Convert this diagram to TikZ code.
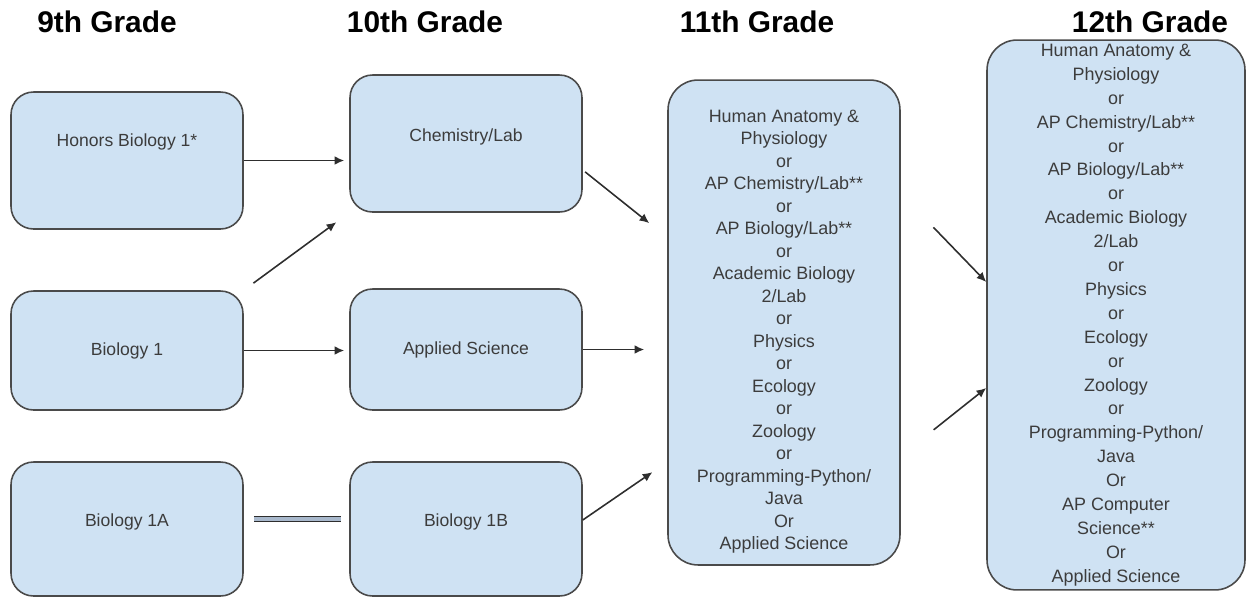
\documentclass[tikz,border=0pt]{standalone}
\usepackage{fontspec}
\setmainfont{Liberation Sans}
\usetikzlibrary{arrows.meta,positioning}
\definecolor{boxblue}{HTML}{CFE2F3}
\definecolor{edgegray}{HTML}{4A4A4A}
\definecolor{arrgray}{HTML}{2E2E2E}
\definecolor{txtgray}{HTML}{3C3C3C}
\definecolor{barfill}{HTML}{A8B8CC}

\begin{document}
\begin{tikzpicture}[
  x=0.02cm, y=-0.02cm,
  box/.style={draw=edgegray, fill=boxblue, line width=0.9pt, rounded corners=0.45cm, minimum width=4.64cm, minimum height=2.74cm, text height=7.5pt, text depth=2.1pt, inner sep=0pt, text=txtgray, font=\fontsize{10}{12}\selectfont},
  lift/.style={text depth=#1},
  tall/.style={draw=edgegray, fill=boxblue, line width=0.9pt, rounded corners=0.6cm, align=center, inner sep=0pt, text=txtgray},
  grade/.style={font=\fontsize{17}{20}\selectfont\bfseries},
  arr/.style={-{Latex[length=5.5pt,width=5pt]}, draw=arrgray, line width=0.9pt},
  dbl/.style={draw=arrgray, double=barfill, double distance=2.4pt, line width=0.7pt}
]
  \useasboundingbox (0,0) rectangle (1255,596);

  \node[grade] (g9) at (107,22) {9th Grade};
  \node[grade] (g10) at (425,22) {10th Grade};
  \node[grade] (g11) at (757,22) {11th Grade};
  \node[grade] (g12) at (1150,22) {12th Grade};

  \node[box, lift=24pt] (honors) at (127,160.5) {Honors Biology 1*};
  \node[box, lift=9.5pt] (chem) at (466,143.5) {Chemistry/Lab};
  \node[box, minimum height=2.38cm] (bio1) at (127,350.5) {Biology 1};
  \node[box, minimum height=2.42cm] (applied) at (466,349.5) {Applied Science};
  \node[box, minimum height=2.68cm, lift=10pt] (bio1a) at (127,529) {Biology 1A};
  \node[box, minimum height=2.68cm, lift=10pt] (bio1b) at (466,529) {Biology 1B};

  \node[tall, minimum width=4.64cm, minimum height=9.7cm, font=\fontsize{10.2}{12.8}\selectfont] (grade11) at (784,322.5) {\rule{0pt}{17.5pt}Human Anatomy \&\\Physiology\\or\\AP Chemistry/Lab**\\or\\AP Biology/Lab**\\or\\Academic Biology\\2/Lab\\or\\Physics\\or\\Ecology\\or\\Zoology\\or\\Programming-Python/\\Java\\Or\\Applied Science};
  \node[tall, minimum width=5.16cm, minimum height=11cm, font=\fontsize{10.2}{13.6}\selectfont] (grade12) at (1116,315) {Human Anatomy \&\\Physiology\\or\\AP Chemistry/Lab**\\or\\AP Biology/Lab**\\or\\Academic Biology\\2/Lab\\or\\Physics\\or\\Ecology\\or\\Zoology\\or\\Programming-Python/\\Java\\Or\\AP Computer\\Science**\\Or\\Applied Science};

  \draw[arr, shorten >=0.1cm] (honors.east) -- (honors.east -| chem.west);
  \draw[arr, shorten <=0.24cm, shorten >=0.32cm] (bio1.north east) -- (chem.south west);
  \draw[arr, shorten >=0.1cm] (bio1.east) -- (bio1.east -| applied.west);
  \draw[dbl, shorten <=0.2cm, shorten >=0.16cm] ([yshift=0.2cm]bio1a.east) -- ([yshift=0.2cm]bio1b.west);
  \draw[arr, shorten <=0.06cm, shorten >=0.46cm] ([yshift=-0.53cm]chem.east) -- ([yshift=1.7cm]grade11.west);
  \draw[arr, shorten >=0.46cm] (applied.east) -- (applied.east -| grade11.west);
  \draw[arr, shorten >=0.36cm] ([yshift=0.18cm]bio1b.east) -- ([yshift=-2.79cm]grade11.west);
  \draw[arr, shorten <=0.94cm] ([yshift=2.58cm]grade11.east) -- ([yshift=0.66cm]grade12.west);
  \draw[arr, shorten <=0.84cm] ([yshift=-2.67cm]grade11.east) -- ([yshift=-1.46cm]grade12.west);
\end{tikzpicture}
\end{document}
